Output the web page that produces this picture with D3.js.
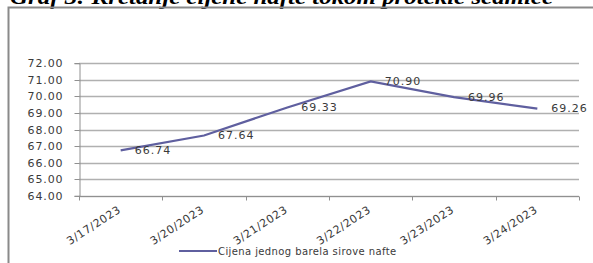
<!DOCTYPE html>
<html>
<head>
<meta charset="utf-8">
<script src="https://cdn.jsdelivr.net/npm/d3@7"></script>
<style>
  body { margin: 0; background: #fff; }
  svg { display: block; }
</style>
</head>
<body>
<div id="chart"></div>
<script>
// Chart data
const dates = ['3/17/2023', '3/20/2023', '3/21/2023', '3/22/2023', '3/23/2023', '3/24/2023'];
const prices = [66.74, 67.64, 69.33, 70.90, 69.96, 69.26];
const yTicks = [64, 65, 66, 67, 68, 69, 70, 71, 72];
const seriesName = 'Cijena jednog barela sirove nafte';
const titleText = 'Graf 3: Kretanje cijene nafte tokom protekle sedmice';

const W = 593, H = 263;
const margin = {top: 63.3, right: 14, bottom: 67.3, left: 79};
const lineColor = '#5f5f9f';
const textColor = '#3a3a3a';

const svg = d3.select('#chart')
    .append('svg')
    .attr('width', W)
    .attr('height', H);

// Title (cut off at the top of the frame)
svg.append('text')
    .attr('x', 10)
    .attr('y', 4)
    .attr('textLength', 543)
    .attr('lengthAdjust', 'spacingAndGlyphs')
    .style('font-family', '"Liberation Serif", serif')
    .style('font-weight', 'bold')
    .style('font-style', 'italic')
    .style('font-size', '20px')
    .text(titleText);

// Outer frame
svg.append('path')
    .attr('d', `M8.5,${H + 5} V7.5 H${W + 5}`)
    .attr('fill', 'none')
    .attr('stroke', '#8a8a8a')
    .attr('stroke-width', 2);

const x = d3.scaleBand()
    .domain(dates)
    .range([margin.left, W - margin.right]);

const y = d3.scaleLinear()
    .domain([64, 72])
    .range([H - margin.bottom, margin.top]);

// Gridlines
svg.append('g')
    .selectAll('line')
    .data(yTicks)
    .join('line')
    .attr('x1', margin.left)
    .attr('x2', W - margin.right)
    .attr('y1', d => Math.round(y(d)) + 0.5)
    .attr('y2', d => Math.round(y(d)) + 0.5)
    .attr('stroke', '#b0b0b0')
    .attr('stroke-width', 1.3);

// Y axis
const yAxis = svg.append('g')
    .attr('transform', `translate(${margin.left + 0.5},0)`)
    .call(d3.axisLeft(y).tickValues(yTicks).tickFormat(d3.format('.2f')).tickSize(5).tickPadding(11));
yAxis.select('.domain').attr('stroke', '#909090');
yAxis.selectAll('.tick line').attr('stroke', '#909090');
yAxis.selectAll('.tick').attr('transform', d => `translate(0,${Math.round(y(d)) + 0.5})`);
yAxis.selectAll('text')
    .attr('fill', textColor)
    .style('font-family', '"DejaVu Sans", sans-serif')
    .style('font-size', '11px')
    .style('letter-spacing', '0.9px');

// X axis: ticks at category boundaries
const xAxisG = svg.append('g')
    .attr('transform', `translate(0,${Math.round(y(64)) + 0.5})`);
xAxisG.append('line')
    .attr('x1', margin.left)
    .attr('x2', W - margin.right)
    .attr('stroke', '#909090');
const boundaries = dates.map(d => x(d)).concat([x(dates[dates.length - 1]) + x.bandwidth()]);
xAxisG.selectAll('.xtick')
    .data(boundaries)
    .join('line')
    .attr('class', 'xtick')
    .attr('x1', d => Math.round(d) + 0.5)
    .attr('x2', d => Math.round(d) + 0.5)
    .attr('y1', 0)
    .attr('y2', 4)
    .attr('stroke', '#909090');
xAxisG.selectAll('.xlabel')
    .data(dates)
    .join('text')
    .attr('class', 'xlabel')
    .attr('text-anchor', 'end')
    .attr('transform', d => `translate(${x(d) + x.bandwidth() / 2 + 1},${15}) rotate(-33)`)
    .attr('fill', textColor)
    .style('font-family', '"DejaVu Sans", sans-serif')
    .style('font-size', '11px')
    .style('letter-spacing', '0.6px')
    .text(d => d);

// Line
const line = d3.line()
    .x((d, i) => x(dates[i]) + x.bandwidth() / 2)
    .y(d => y(d));

svg.append('path')
    .datum(prices)
    .attr('fill', 'none')
    .attr('stroke', lineColor)
    .attr('stroke-width', 2.2)
    .attr('d', line);

// Data labels (right of each point)
svg.selectAll('.dlabel')
    .data(prices)
    .join('text')
    .attr('class', 'dlabel')
    .attr('x', (d, i) => x(dates[i]) + x.bandwidth() / 2 + 14)
    .attr('y', d => y(d))
    .attr('dy', '0.35em')
    .attr('fill', textColor)
    .style('font-family', '"DejaVu Sans", sans-serif')
    .style('font-size', '11px')
    .style('letter-spacing', '1px')
    .text(d => d.toFixed(2));

// Legend
const legend = svg.append('g')
    .attr('transform', 'translate(179,251)');
legend.append('line')
    .attr('x1', 0)
    .attr('x2', 38)
    .attr('stroke', lineColor)
    .attr('stroke-width', 2.2);
legend.append('text')
    .attr('x', 39)
    .attr('dy', '0.35em')
    .attr('fill', textColor)
    .style('font-family', '"DejaVu Sans", sans-serif')
    .style('font-size', '10px')
    .style('letter-spacing', '0.4px')
    .text(seriesName);
</script>
</body>
</html>
